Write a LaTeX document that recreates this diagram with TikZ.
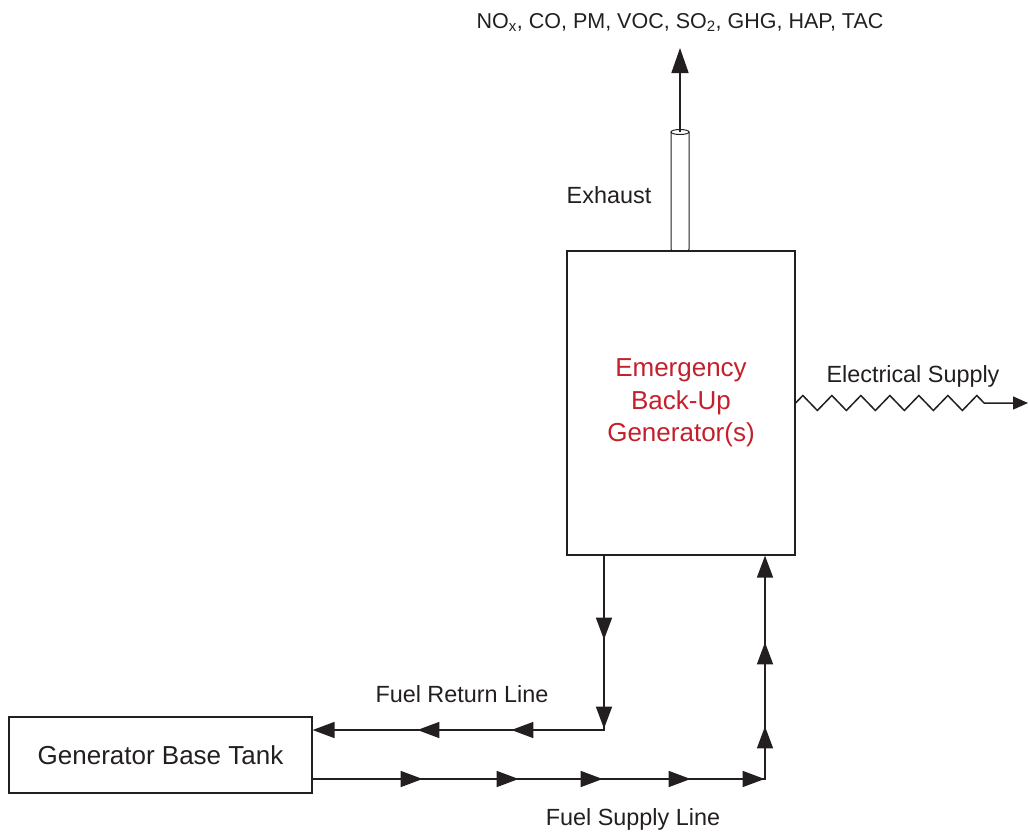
\documentclass[tikz,border=0pt]{standalone}
\usepackage{fontspec}
\setmainfont{Liberation Sans}
\usepackage{xcolor}
\usetikzlibrary{arrows.meta,positioning,calc,decorations.markings,decorations.pathmorphing}
\definecolor{genred}{RGB}{196,32,44}
\definecolor{inkgray}{RGB}{35,31,32}

\begin{document}
\begin{tikzpicture}[
  x=1pt,y=-1pt,
  box/.style={draw=inkgray,line width=1.2pt,inner sep=0pt,align=center,
    font=\fontsize{26}{32.5}\selectfont,text=inkgray},
  lbl/.style={inner sep=0pt,font=\fontsize{23.4}{28}\selectfont,text=inkgray},
  flow/.style={draw=inkgray,line width=1.6pt},
  tri/.tip={Triangle[length=22pt,width=16pt]},
  retmarks/.style={postaction={decorate},decoration={markings,
    mark=at position 84pt with {\arrow{tri}},
    mark=at position 173pt with {\arrow{tri}},
    mark=at position 267pt with {\arrow{tri}},
    mark=at position 361pt with {\arrow{tri}}}},
  supmarks/.style={postaction={decorate},decoration={markings,
    mark=at position 110pt with {\arrow{tri}},
    mark=at position 206pt with {\arrow{tri}},
    mark=at position 290pt with {\arrow{tri}},
    mark=at position 378pt with {\arrow{tri}},
    mark=at position 452pt with {\arrow{tri}},
    mark=at position 505pt with {\arrow{tri}},
    mark=at position 589pt with {\arrow{tri}}}}
]
\useasboundingbox (0,0) rectangle (1029,835);

% generator and tank
\node[box,minimum width=228pt,minimum height=304pt,text=genred] (gen) at (681,403)
  {Emergency\\Back-Up\\Generator(s)};
\node[box,minimum width=303pt,minimum height=76pt] (tank) at (160.5,755) {Generator Base Tank};

% exhaust stack
\draw[draw=inkgray,line width=1pt,rounded corners=2pt] (671,132) -- (671,251) -- (689,251) -- (689,132);
\draw[draw=inkgray,line width=1pt] (680,132) ellipse [x radius=9,y radius=2.5];
\coordinate (stacktop) at (680,132);
\coordinate (exout) at (680,48);
\draw[flow,-{Triangle[length=25pt,width=17pt]}] (stacktop) -- (exout);
\node[lbl,font=\fontsize{21.5}{26}\selectfont,above=16pt of exout] (pollut)
  {NO\textsubscript{x}, CO, PM, VOC, SO\textsubscript{2}, GHG, HAP, TAC};
\node[lbl,anchor=base] (exlbl) at (609,203.5) {Exhaust};

% electrical supply
\coordinate (zend) at (998,403);
\coordinate (elec) at (1028,403);
\draw[flow,line width=1.5pt,-{Triangle[length=15pt,width=13pt]}] (gen.east)
  decorate[decoration={zigzag,segment length=29pt,amplitude=7.5pt}] {-- (zend)} -- (elec);
\node[lbl,anchor=base] (elbl) at (913,382) {Electrical Supply};

% fuel lines
\coordinate (ret) at ($(tank.east)+(0,-25)$);
\coordinate (sup) at ($(tank.east)+(0,24)$);
\draw[flow,-{tri},retmarks] ($(gen.south)+(-77,0)$) |- (ret);
\draw[flow,-{tri},supmarks] (sup) -| ($(gen.south)+(84,0)$);
\node[lbl,anchor=base] (retlbl) at (462,702) {Fuel Return Line};
\node[lbl,anchor=base] (suplbl) at (633,825) {Fuel Supply Line};
\end{tikzpicture}
\end{document}
